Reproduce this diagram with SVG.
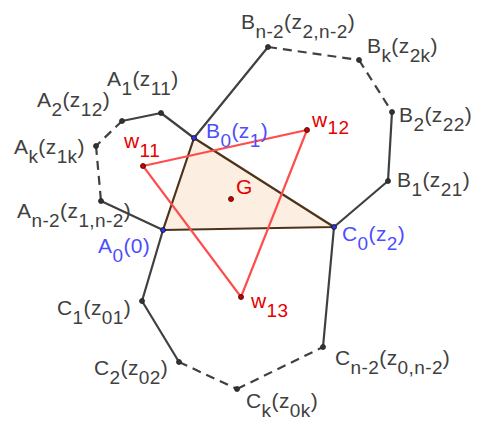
<svg xmlns="http://www.w3.org/2000/svg" width="481" height="421" viewBox="0 0 481 421">
<style>
text{font-family:"Liberation Sans",Arial,sans-serif;font-size:21px;letter-spacing:0.4px;fill:#404040}
.s{font-size:19px}
.blue{fill:#4d4dff}
.red{fill:#e60000}
.poly{stroke:#404040;stroke-width:2.2;fill:none;stroke-linecap:round}
.dash{stroke-dasharray:9 6;stroke-linecap:butt}
.tri{stroke:#4d3319;stroke-width:2.2;fill:#fdeee2;stroke-linejoin:round}
.rl{stroke:#ff4d4d;stroke-width:2.2;fill:none}
.gd{fill:#333;stroke:#222;stroke-width:0.8}
.bd{fill:#3333ee;stroke:#111;stroke-width:0.8}
.rd{fill:#cc0000;stroke:#330000;stroke-width:0.8}
</style>
<g id="connectors">
<polygon class="tri" points="163,230 194,138 334,227"/>
<line class="poly" x1="194" y1="138" x2="161" y2="113"/>
<line class="poly" x1="161" y1="113" x2="122" y2="121"/>
<line class="poly dash" x1="122" y1="121" x2="96" y2="146"/>
<line class="poly dash" x1="96" y1="146" x2="101" y2="201"/>
<line class="poly" x1="101" y1="201" x2="163" y2="230"/>
<line class="poly" x1="194" y1="138" x2="268" y2="47"/>
<line class="poly dash" x1="268" y1="47" x2="359" y2="60"/>
<line class="poly dash" x1="359" y1="60" x2="392" y2="112"/>
<line class="poly" x1="392" y1="112" x2="388" y2="181"/>
<line class="poly" x1="388" y1="181" x2="334" y2="227"/>
<line class="poly" x1="163" y1="230" x2="142" y2="301"/>
<line class="poly" x1="142" y1="301" x2="179" y2="362"/>
<line class="poly dash" x1="179" y1="362" x2="237" y2="389"/>
<line class="poly dash" x1="237" y1="389" x2="323" y2="347"/>
<line class="poly" x1="323" y1="347" x2="334" y2="227"/>
<polygon class="rl" points="143,166 307,130 241,297"/>
</g>
<g id="A1"><circle class="gd" cx="161" cy="113" r="2.5"/><text x="107" y="86">A<tspan class="s" dy="9">1</tspan><tspan dy="-9">(z</tspan><tspan class="s" dy="9">11</tspan><tspan dy="-9">)</tspan></text></g>
<g id="A2"><circle class="gd" cx="122" cy="121" r="2.5"/><text x="37" y="107">A<tspan class="s" dy="9">2</tspan><tspan dy="-9">(z</tspan><tspan class="s" dy="9">12</tspan><tspan dy="-9">)</tspan></text></g>
<g id="Ak"><circle class="gd" cx="96" cy="146" r="2.5"/><text x="14" y="154">A<tspan class="s" dy="9">k</tspan><tspan dy="-9">(z</tspan><tspan class="s" dy="9">1k</tspan><tspan dy="-9">)</tspan></text></g>
<g id="An2"><circle class="gd" cx="101" cy="201" r="2.5"/><text x="17" y="218">A<tspan class="s" dy="9">n-2</tspan><tspan dy="-9">(z</tspan><tspan class="s" dy="9">1,n-2</tspan><tspan dy="-9">)</tspan></text></g>
<g id="A0"><circle class="bd" cx="163" cy="230" r="2.5"/><text class="blue" x="98" y="253">A<tspan class="s" dy="9">0</tspan><tspan dy="-9">(0)</tspan></text></g>
<g id="B0"><circle class="bd" cx="194" cy="138" r="2.5"/><text class="blue" x="206" y="138">B<tspan class="s" dy="9">0</tspan><tspan dy="-9">(z</tspan><tspan class="s" dy="9">1</tspan><tspan dy="-9">)</tspan></text></g>
<g id="C0"><circle class="bd" cx="334" cy="227" r="2.5"/><text class="blue" x="342" y="241">C<tspan class="s" dy="9">0</tspan><tspan dy="-9">(z</tspan><tspan class="s" dy="9">2</tspan><tspan dy="-9">)</tspan></text></g>
<g id="Bn2"><circle class="gd" cx="268" cy="47" r="2.5"/><text x="241" y="29">B<tspan class="s" dy="9">n-2</tspan><tspan dy="-9">(z</tspan><tspan class="s" dy="9">2,n-2</tspan><tspan dy="-9">)</tspan></text></g>
<g id="Bk"><circle class="gd" cx="359" cy="60" r="2.5"/><text x="367" y="53">B<tspan class="s" dy="9">k</tspan><tspan dy="-9">(z</tspan><tspan class="s" dy="9">2k</tspan><tspan dy="-9">)</tspan></text></g>
<g id="B2"><circle class="gd" cx="392" cy="112" r="2.5"/><text x="399" y="122">B<tspan class="s" dy="9">2</tspan><tspan dy="-9">(z</tspan><tspan class="s" dy="9">22</tspan><tspan dy="-9">)</tspan></text></g>
<g id="B1"><circle class="gd" cx="388" cy="181" r="2.5"/><text x="397" y="187">B<tspan class="s" dy="9">1</tspan><tspan dy="-9">(z</tspan><tspan class="s" dy="9">21</tspan><tspan dy="-9">)</tspan></text></g>
<g id="C1"><circle class="gd" cx="142" cy="301" r="2.5"/><text x="57" y="315">C<tspan class="s" dy="9">1</tspan><tspan dy="-9">(z</tspan><tspan class="s" dy="9">01</tspan><tspan dy="-9">)</tspan></text></g>
<g id="C2"><circle class="gd" cx="179" cy="362" r="2.5"/><text x="94" y="375">C<tspan class="s" dy="9">2</tspan><tspan dy="-9">(z</tspan><tspan class="s" dy="9">02</tspan><tspan dy="-9">)</tspan></text></g>
<g id="Ck"><circle class="gd" cx="237" cy="389" r="2.5"/><text x="246" y="408">C<tspan class="s" dy="9">k</tspan><tspan dy="-9">(z</tspan><tspan class="s" dy="9">0k</tspan><tspan dy="-9">)</tspan></text></g>
<g id="Cn2"><circle class="gd" cx="323" cy="347" r="2.5"/><text x="335" y="365">C<tspan class="s" dy="9">n-2</tspan><tspan dy="-9">(z</tspan><tspan class="s" dy="9">0,n-2</tspan><tspan dy="-9">)</tspan></text></g>
<g id="w11"><circle class="rd" cx="143" cy="166" r="2.5"/><text class="red" x="124" y="148">w<tspan class="s" dy="9">11</tspan></text></g>
<g id="w12"><circle class="rd" cx="307" cy="130" r="2.5"/><text class="red" x="312" y="127">w<tspan class="s" dy="7">12</tspan></text></g>
<g id="w13"><circle class="rd" cx="241" cy="297" r="2.5"/><text class="red" x="251" y="308">w<tspan class="s" dy="9">13</tspan></text></g>
<g id="G"><circle class="rd" cx="231" cy="199" r="2.5"/><text class="red" x="236" y="194">G</text></g>
</svg>
